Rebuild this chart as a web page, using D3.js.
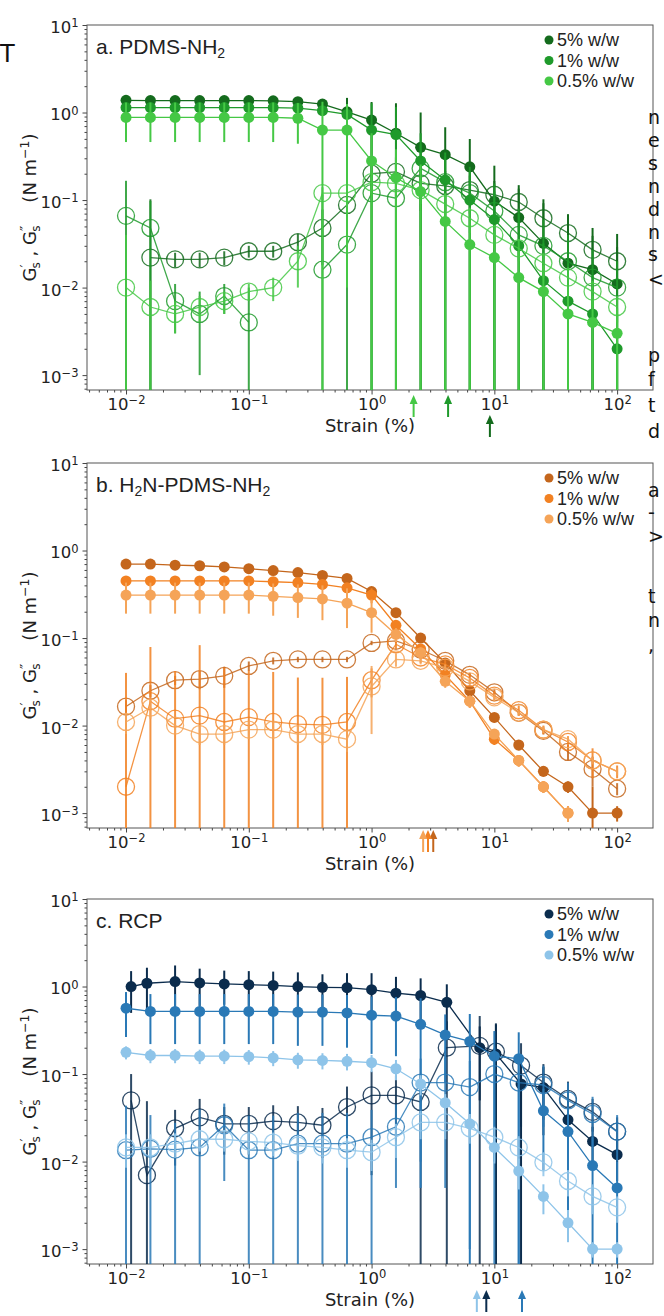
<!DOCTYPE html>
<html>
<head>
<meta charset="utf-8">
<script src="https://cdnjs.cloudflare.com/ajax/libs/d3/7.8.5/d3.min.js"></script>
<style>
  body { margin: 0; background: #fff; }
  svg { display: block; }
  text { white-space: pre; }
</style>
</head>
<body>
<svg id="fig" width="664" height="1316"></svg>
<script>
// small stand-ins for d3-selection-multi
d3.selection.prototype.attrs = function(o){ for(var k in o) this.attr(k, o[k]); return this; };
d3.selection.prototype.styles = function(o){ for(var k in o) this.style(k, o[k]); return this; };

/*******************************************************************************************/
// Data

var strain = [0.01, 0.0158, 0.0251, 0.0398, 0.0631, 0.1, 0.158, 0.251, 0.398, 0.631, 1.0,
              1.58, 2.51, 3.98, 6.31, 10, 15.8, 25.1, 39.8, 63.1, 100];
var strainRcp5 = [0.011, 0.0148, 0.0251, 0.0398, 0.0631, 0.1, 0.158, 0.251, 0.398, 0.631, 1.0,
                  1.58, 2.51, 4.1, 7.6, 10.3, 16.5, 25.1, 39.8, 63.1, 100];

var concLabels = ['5% w/w', '1% w/w', '0.5% w/w'];
var xTicks = [0.01, 0.1, 1, 10, 100];
var yTicks = [0.001, 0.01, 0.1, 1, 10];

// a. PDMS-NH2
var pdmsGp5    = [1.38,1.37,1.37,1.37,1.37,1.37,1.36,1.33,1.25,1.02,0.82,0.58,0.40,0.33,0.24,0.097,0.063,0.032,0.019,0.016,0.011];
var pdmsGp5Err = [0.1,0.1,0.1,0.1,0.1,0.1,0.1,0.1,0.15,0.45,0.5,0.7,0.6,0.35,0.26,0.15,0.085,0.07,0.05,0.032,0.03];
var pdmsGp1    = [1.14,1.14,1.14,1.14,1.14,1.14,1.14,1.12,1.05,0.95,0.63,0.56,0.28,0.17,0.10,0.06,0.030,0.012,0.007,0.005,0.002];
var pdmsGp1Err = [0.1,0.1,0.1,0.1,0.1,0.1,0.1,0.1,0.12,0.3,0.65,0.6,0.3,0.18,0.11,0.065,0.04,0.02,0.012,0.009,0.003];
var pdmsGp05    = [0.88,0.88,0.88,0.88,0.88,0.88,0.88,0.86,0.63,0.63,0.28,0.18,0.125,0.057,0.031,0.022,0.013,0.009,0.005,0.004,0.003];
var pdmsGp05Err = [0.42,0.42,0.42,0.42,0.42,0.42,0.42,0.42,0.7,0.62,0.3,0.2,0.13,0.06,0.032,0.022,0.013,0.009,0.0052,0.004,0.0028];
var pdmsGpp5    = [null,0.022,0.021,0.021,0.022,0.026,0.026,0.033,0.048,0.088,0.2,0.21,0.155,0.145,0.13,0.115,0.095,0.062,0.042,0.027,0.02];
var pdmsGpp5Err = [null,0.08,0.004,0.004,0.004,0.004,0.004,0.008,0.03,0.05,0.1,0.1,0.08,0.07,0.06,0.05,0.04,0.03,0.02,0.012,0.009];
var pdmsGpp1    = [0.066,0.048,0.007,0.005,0.008,0.004,null,null,0.016,0.031,0.12,0.105,0.23,0.16,0.12,0.075,0.04,0.03,0.02,0.013,0.01];
var pdmsGpp1Err = [0.1,0.05,0.004,0.004,0.003,0.006,null,null,0.1,0.1,0.15,0.2,0.2,0.16,0.12,0.08,0.04,0.03,0.02,0.014,0.01];
var pdmsGpp05    = [0.01,0.006,0.005,0.006,0.007,0.009,0.01,0.02,0.12,0.12,0.16,0.155,0.13,0.09,0.062,0.04,0.028,0.019,0.013,0.009,0.006];
var pdmsGpp05Err = [0.03,0.006,0.002,0.002,0.002,0.002,0.003,0.01,0.02,0.02,0.05,0.05,0.04,0.03,0.02,0.012,0.008,0.006,0.004,0.003,0.002];
var pdmsYield = [9.2, 4.2, 2.2];

// b. H2N-PDMS-NH2
var coatGp5    = [0.70,0.70,0.68,0.67,0.65,0.62,0.59,0.56,0.52,0.48,0.34,0.195,0.10,0.052,0.025,0.0124,0.006,0.003,0.002,0.001,0.001];
var coatGp5Err = [0.04,0.04,0.04,0.04,0.04,0.04,0.04,0.04,0.04,0.04,0.03,0.02,0.01,0.005,0.003,0.0015,0.0008,0.0004,0.0003,0.001,0.0002];
var coatGp1    = [0.45,0.45,0.45,0.45,0.45,0.45,0.44,0.43,0.41,0.375,0.31,0.14,0.075,0.038,0.019,0.007,0.004,0.002,0.001,null,null];
var coatGp1Err = [0.05,0.05,0.05,0.05,0.05,0.05,0.05,0.05,0.05,0.05,0.06,0.02,0.01,0.005,0.003,0.001,0.0006,0.0003,0.0002,null,null];
var coatGp05    = [0.31,0.31,0.31,0.31,0.31,0.31,0.30,0.29,0.28,0.25,0.195,0.11,0.068,0.032,0.019,0.008,0.004,0.002,0.001,null,null];
var coatGp05Err = [0.12,0.12,0.12,0.12,0.12,0.12,0.12,0.12,0.12,0.12,0.08,0.02,0.01,0.005,0.003,0.001,0.0006,0.0003,0.0002,null,null];
var coatGpp5    = [0.0165,0.025,0.033,0.034,0.037,0.048,0.055,0.057,0.057,0.057,0.088,0.093,0.074,0.055,0.038,0.024,0.014,0.0087,0.005,0.0032,0.0019];
var coatGpp5Err = [0.003,0.004,0.004,0.008,0.01,0.006,0.005,0.004,0.004,0.004,0.005,0.005,0.004,0.003,0.002,0.002,0.001,0.0008,0.001,0.0012,0.0003];
var coatGpp1    = [0.002,0.019,0.012,0.013,0.011,0.0125,0.011,0.0104,0.0102,0.011,0.033,0.085,0.06,0.05,0.035,0.022,0.015,0.009,0.0065,0.004,0.003];
var coatGpp1Err = [0.038,0.06,0.03,0.07,0.035,0.03,0.03,0.025,0.025,0.025,0.012,0.01,0.008,0.006,0.004,0.003,0.002,0.001,0.001,0.0015,0.0005];
var coatGpp05    = [0.011,0.016,0.01,0.008,0.008,0.009,0.009,0.008,0.008,0.007,0.028,0.057,0.055,0.046,0.032,0.021,0.014,0.009,0.007,0.004,0.003];
var coatGpp05Err = [0.003,0.004,0.002,0.002,0.002,0.002,0.002,0.002,0.002,0.002,0.02,0.01,0.005,0.004,0.003,0.002,0.001,0.0008,0.0006,0.0004,0.0003];
var coatYield = [3.18, 2.88, 2.63];

// c. RCP
var rcpGp5    = [1.0,1.09,1.14,1.1,1.07,1.05,1.03,1.0,0.98,0.97,0.92,0.84,0.79,0.66,0.2,0.17,0.077,0.07,0.03,0.017,0.012];
var rcpGp5Err = [0.5,0.55,0.6,0.5,0.45,0.45,0.45,0.45,0.4,0.45,0.5,0.45,0.45,0.4,0.15,0.2,0.08,0.05,0.02,0.008,0.006];
var rcpGp1    = [0.565,0.52,0.52,0.52,0.52,0.52,0.52,0.51,0.51,0.5,0.47,0.46,0.37,0.28,0.236,0.16,0.15,0.038,0.022,0.009,0.005];
var rcpGp1Err = [0.3,0.3,0.3,0.3,0.3,0.3,0.3,0.3,0.3,0.3,0.3,0.3,0.365,0.2,0.25,0.15,0.15,0.03,0.02,0.01,0.005];
var rcpGp05    = [0.177,0.163,0.163,0.16,0.16,0.158,0.153,0.145,0.143,0.14,0.135,0.115,0.077,0.047,0.027,0.0145,0.0078,0.004,0.002,0.001,0.001];
var rcpGp05Err = [0.03,0.03,0.03,0.03,0.03,0.03,0.03,0.03,0.03,0.03,0.03,0.03,0.02,0.012,0.008,0.005,0.003,0.0015,0.0008,0.0002,0.0002];
var rcpGpp5    = [0.05,0.007,0.024,0.032,0.027,0.027,0.029,0.028,0.026,0.042,0.057,0.057,0.048,0.2,0.21,0.18,0.125,0.08,0.052,0.037,0.022];
var rcpGpp5Err = [0.05,0.042,0.015,0.02,0.015,0.015,0.015,0.015,0.015,0.03,0.05,0.04,0.05,0.2,0.25,0.2,0.1,0.05,0.03,0.015,0.01];
var rcpGpp1    = [0.0135,0.014,0.0137,0.0145,0.026,0.0135,0.0135,0.016,0.016,0.016,0.019,0.025,0.08,0.08,0.071,0.1,0.08,0.075,0.05,0.035,0.022];
var rcpGpp1Err = [0.03,0.02,0.014,0.025,0.02,0.02,0.02,0.02,0.02,0.02,0.02,0.02,0.07,0.075,0.07,0.1,0.08,0.05,0.03,0.02,0.012];
var rcpGpp05    = [0.0145,0.0145,0.016,0.018,0.018,0.017,0.0165,0.0152,0.0145,0.0135,0.0128,0.019,0.028,0.028,0.024,0.019,0.0145,0.0098,0.006,0.004,0.003];
var rcpGpp05Err = [0.006,0.006,0.005,0.005,0.005,0.005,0.005,0.005,0.005,0.005,0.005,0.008,0.01,0.01,0.008,0.006,0.005,0.003,0.002,0.0015,0.001];
var rcpYield = [8.6, 16.8, 7.2];

/*******************************************************************************************/
// Layout

var svg = d3.select('#fig');
var left = 87, right = 653, plotH = 365;
var xMin = 0.00481, xMax = 196, yMin = 0.000676, yMax = 10;
var tickFont = "'DejaVu Sans', sans-serif";
var labelFont = "'Liberation Sans', Arial, sans-serif";

var panels = [
  { id: 'a', top: 25, title: ['a. PDMS-NH', '2', ''],
    colors: ['#146b1d', '#1f9a2b', '#45c845'],
    x: [strain, strain, strain],
    gp: [pdmsGp5, pdmsGp1, pdmsGp05], gpErr: [pdmsGp5Err, pdmsGp1Err, pdmsGp05Err],
    gpp: [pdmsGpp5, pdmsGpp1, pdmsGpp05], gppErr: [pdmsGpp5Err, pdmsGpp1Err, pdmsGpp05Err],
    arrows: pdmsYield, arrowDrop: [25, 5, 5] },
  { id: 'b', top: 463, title: ['b. H', '2', 'N-PDMS-NH', '2'],
    colors: ['#c4661c', '#f28122', '#f5a458'],
    x: [strain, strain, strain],
    gp: [coatGp5, coatGp1, coatGp05], gpErr: [coatGp5Err, coatGp1Err, coatGp05Err],
    gpp: [coatGpp5, coatGpp1, coatGpp05], gppErr: [coatGpp5Err, coatGpp1Err, coatGpp05Err],
    arrows: coatYield, arrowDrop: [2, 2, 2] },
  { id: 'c', top: 899, title: ['c. RCP'],
    colors: ['#0b2c4d', '#2a79b6', '#8ec4e9'],
    x: [strainRcp5, strain, strain],
    gp: [rcpGp5, rcpGp1, rcpGp05], gpErr: [rcpGp5Err, rcpGp1Err, rcpGp05Err],
    gpp: [rcpGpp5, rcpGpp1, rcpGpp05], gppErr: [rcpGpp5Err, rcpGpp1Err, rcpGpp05Err],
    arrows: rcpYield, arrowDrop: [26, 26, 26] }
];

/*************************************************/

function supLabel(sel, d){
  var e = Math.round(Math.log10(d));
  sel.text('10');
  sel.append('tspan').attr('dy', '-0.5em').attr('font-size', 11.5).text(e < 0 ? '\u2212' + (-e) : e);
}

function minorTicks(){
  var out = [];
  for(var p = -4; p <= 2; p++){
    for(var m = 2; m <= 9; m++){ out.push(m * Math.pow(10, p)); }
  }
  return out;
}

function drawPanel(p){
  var top = p.top, bottom = top + plotH;
  var g = svg.append('g').attr('id', 'panel_' + p.id);
  var xScale = d3.scaleLog().domain([xMin, xMax]).range([left, right]);
  var yScale = d3.scaleLog().domain([yMin, yMax]).range([bottom, top]);
  var minors = minorTicks();

  g.append('clipPath').attr('id', 'clip_' + p.id)
    .append('rect').attrs({ x: left, y: top, width: right - left, height: plotH });

  // axes
  var xAx = g.append('g').attr('transform', 'translate(0,' + bottom + ')');
  xAx.call(d3.axisBottom(xScale).tickValues(minors.filter(function(d){ return d > xMin && d < xMax; }))
    .tickSize(2.5).tickFormat(''));
  var xAxMaj = g.append('g').attr('transform', 'translate(0,' + bottom + ')');
  xAxMaj.call(d3.axisBottom(xScale).tickValues(xTicks).tickSize(4.5).tickPadding(4));
  xAxMaj.selectAll('.tick text').attr('font-size', 16.5).attr('font-family', tickFont).attr('fill', '#222')
    .each(function(d){ supLabel(d3.select(this), d); });

  var yAx = g.append('g').attr('transform', 'translate(' + left + ',0)');
  yAx.call(d3.axisLeft(yScale).tickValues(minors.filter(function(d){ return d > yMin && d < yMax; }))
    .tickSize(2.5).tickFormat(''));
  var yAxMaj = g.append('g').attr('transform', 'translate(' + left + ',0)');
  yAxMaj.call(d3.axisLeft(yScale).tickValues(yTicks).tickSize(4.5).tickPadding(4));
  yAxMaj.selectAll('.tick text').attr('font-size', 16.5).attr('font-family', tickFont).attr('fill', '#222')
    .attr('dy', '0.45em')
    .each(function(d){ supLabel(d3.select(this), d); });

  g.selectAll('.domain').remove();
  g.selectAll('.tick line').attr('stroke', '#444');

  // frame
  g.append('rect').attrs({ x: left, y: top, width: right - left, height: plotH })
    .styles({ fill: 'none', stroke: '#555', 'stroke-width': 1 });

  // data
  var plot = g.append('g').attr('clip-path', 'url(#clip_' + p.id + ')');
  var lineGen = d3.line().defined(function(d){ return d.v != null; })
    .x(function(d){ return xScale(d.x); }).y(function(d){ return yScale(d.v); });

  function series(xs, vals, errs, color, open){
    var pts = vals.map(function(v, i){ return { x: xs[i], v: v, e: errs[i] }; });
    var ok = pts.filter(function(d){ return d.v != null; });
    plot.append('g').selectAll('line').data(ok).enter().append('line')
      .attrs({
        x1: function(d){ return xScale(d.x); }, x2: function(d){ return xScale(d.x); },
        y1: function(d){ return yScale(d.v + d.e); },
        y2: function(d){ return d.v - d.e > 0 ? yScale(d.v - d.e) : bottom + 10; }
      })
      .styles({ stroke: color, 'stroke-width': 2, opacity: open ? 0.85 : 1 });
    plot.append('path').datum(pts).attr('d', lineGen)
      .styles({ fill: 'none', stroke: color, 'stroke-width': 1.3, opacity: open ? 0.85 : 1 });
    plot.append('g').selectAll('circle').data(ok).enter().append('circle')
      .attrs({ cx: function(d){ return xScale(d.x); }, cy: function(d){ return yScale(d.v); }, r: open ? 8.5 : 5.5 })
      .styles(open ? { fill: 'none', stroke: color, 'stroke-width': 1.3, opacity: 0.85 } : { fill: color });
  }

  for(var i = 0; i < 3; i++){
    series(p.x[i], p.gp[i], p.gpErr[i], p.colors[i], false);
    series(p.x[i], p.gpp[i], p.gppErr[i], p.colors[i], true);
  }

  // title
  var t = g.append('text').attrs({ x: left + 9, y: top + 29 })
    .styles({ 'font-family': labelFont, 'font-size': '21px', fill: '#222' });
  p.title.forEach(function(s, k){
    if(k % 2 == 1) t.append('tspan').attrs({ dy: 4, 'font-size': 14 }).text(s);
    else t.append('tspan').attrs({ dy: k > 0 ? -4 : 0 }).text(s);
  });

  // legend
  concLabels.forEach(function(s, k){
    var ly = top + 15 + k * 20.5;
    g.append('circle').attrs({ cx: 549, cy: ly, r: 4.5 }).style('fill', p.colors[k]);
    g.append('text').attrs({ x: 557, y: ly + 6 })
      .styles({ 'font-family': labelFont, 'font-size': '18px', fill: '#222' }).text(s);
  });

  // axis labels
  g.append('text').attrs({ x: (left + right) / 2, y: bottom + 42, 'text-anchor': 'middle' })
    .styles({ 'font-family': tickFont, 'font-size': '18px', fill: '#222' }).text('Strain (%)');

  var yl = g.append('text').attrs({ transform: 'translate(36,' + (top + plotH / 2) + ') rotate(-90)', 'text-anchor': 'middle' })
    .styles({ 'font-family': tickFont, 'font-size': '18px', fill: '#222' });
  yl.append('tspan').text('G');
  yl.append('tspan').attrs({ 'font-size': 14, dy: -6 }).text('\u2032');
  yl.append('tspan').attrs({ 'font-size': 12, dx: -4, dy: 10 }).text('s');
  yl.append('tspan').attrs({ dy: -4 }).text(' , G');
  yl.append('tspan').attrs({ 'font-size': 14, dy: -6 }).text('\u2033');
  yl.append('tspan').attrs({ 'font-size': 12, dx: -6, dy: 10 }).text('s');
  yl.append('tspan').attrs({ dy: -4 }).text('    (N m');
  yl.append('tspan').attrs({ 'font-size': 12.5, dy: -7 }).text('\u22121');
  yl.append('tspan').attrs({ dy: 7 }).text(')');

  // yield-point arrows
  p.arrows.forEach(function(s, k){
    var ax = xScale(s), tip = bottom + p.arrowDrop[k], len = 22;
    g.append('line').attrs({ x1: ax, x2: ax, y1: tip + 6, y2: tip + len })
      .styles({ stroke: p.colors[k], 'stroke-width': 2 });
    g.append('path').attr('d', 'M' + ax + ',' + tip + 'L' + (ax - 4) + ',' + (tip + 9) + 'L' + (ax + 4) + ',' + (tip + 9) + 'Z')
      .style('fill', p.colors[k]);
  });
}

panels.forEach(drawPanel);

// fragments of the surrounding page that show at the right and left edges
var edgeLetters = [['n',124],['e',147],['s',170],['n',193],['d',216],['n',239],['s',261],['<',286],
                   ['p',362],['f',386],['t',412],['d',438],['a',497],['-',519],['>',543],['t',603],['n',627],[',',652]];
svg.append('g').selectAll('text').data(edgeLetters).enter().append('text')
  .attrs({ x: 648, y: function(d){ return d[1]; } })
  .styles({ 'font-family': tickFont, 'font-size': '19px', fill: '#111' })
  .text(function(d){ return d[0]; });
svg.append('text').attrs({ x: 0, y: 62 }).styles({ 'font-family': tickFont, 'font-size': '24px', fill: '#111' }).text('T');
</script>
</body>
</html>
